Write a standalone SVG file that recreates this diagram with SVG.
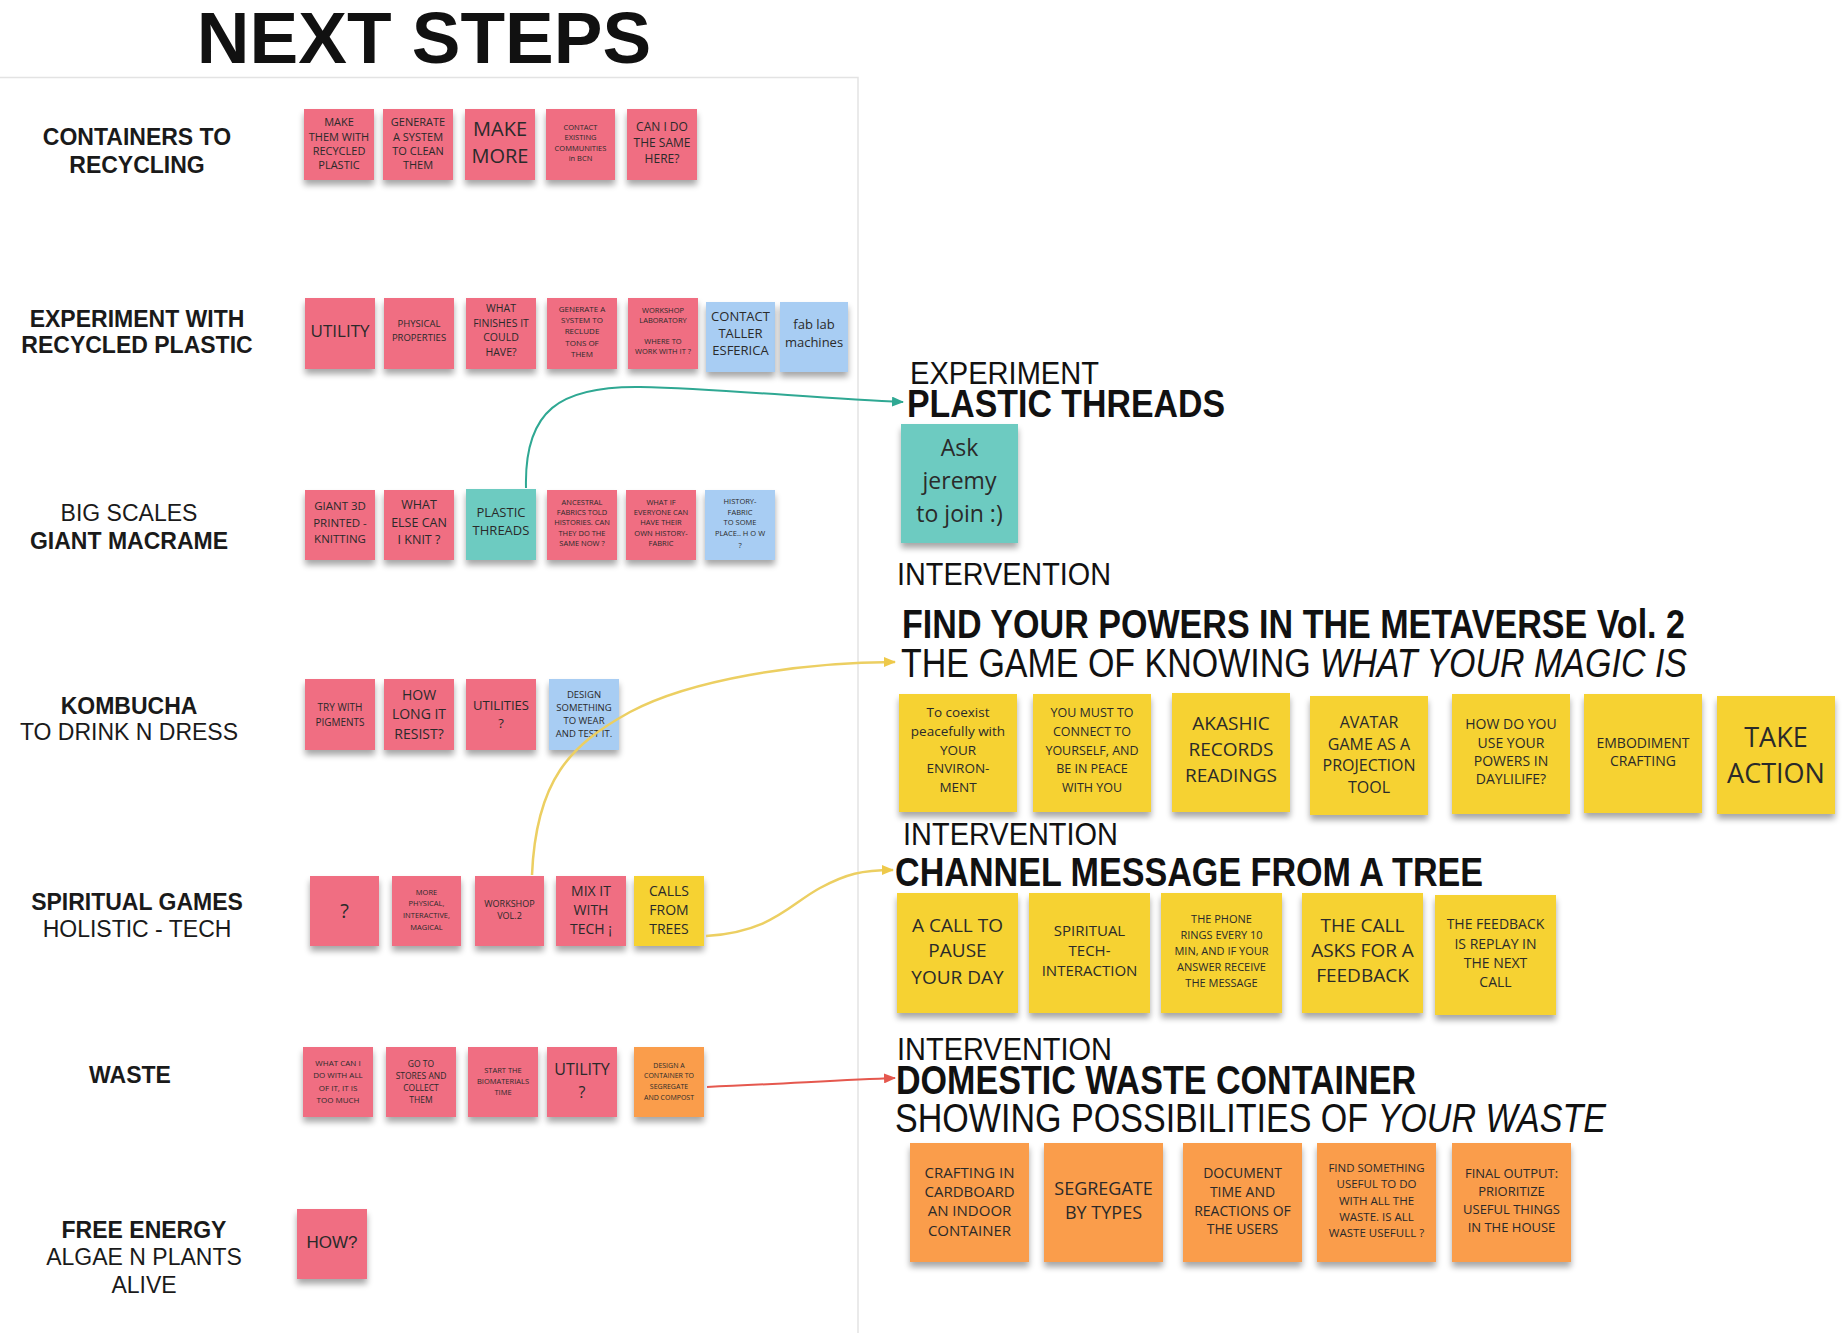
<svg xmlns="http://www.w3.org/2000/svg" width="1842" height="1333" viewBox="0 0 1842 1333">
<style>
.bg{fill:#ffffff}
.frame{stroke:#e3e3e3;stroke-width:1.5;fill:none}
.title{font-family:"Liberation Sans",Arial,sans-serif;font-weight:bold;fill:#111;text-anchor:middle}
.lab{font-family:"Liberation Sans",Arial,sans-serif;font-size:23px;fill:#1a1a1a;text-anchor:middle}
.b{font-weight:bold}
.hd{font-family:"Liberation Sans",Arial,sans-serif;fill:#111}
.st text,.st tspan{font-family:"Open Sans","Liberation Sans",sans-serif;fill:#2a2a2a;text-anchor:middle;dominant-baseline:central}
.pink{fill:#f06e82}
.blue{fill:#a8cdf3}
.teal{fill:#6dcbc1}
.yel{fill:#f6d232}
.org{fill:#fa9d4b}
.c-teal{stroke:#2fa893;stroke-width:2;fill:none}
.c-yel{stroke:#eccf62;stroke-width:2.5;fill:none}
.c-red{stroke:#e5584e;stroke-width:2;fill:none}
</style>
<defs>
<filter id="sh" x="-15%" y="-15%" width="130%" height="140%">
<feGaussianBlur in="SourceAlpha" stdDeviation="3"/>
<feOffset dy="5" result="o"/>
<feComponentTransfer><feFuncA type="linear" slope="0.35"/></feComponentTransfer>
<feMerge><feMergeNode/><feMergeNode in="SourceGraphic"/></feMerge>
</filter>
<marker id="aT" markerWidth="12" markerHeight="10" refX="11" refY="5" orient="auto" markerUnits="userSpaceOnUse"><path d="M0,0 L12,5 L0,10 Z" fill="#2fa893"/></marker>
<marker id="aY" markerWidth="12" markerHeight="10" refX="11" refY="5" orient="auto" markerUnits="userSpaceOnUse"><path d="M0,0 L12,5 L0,10 Z" fill="#eec94a"/></marker>
<marker id="aR" markerWidth="12" markerHeight="10" refX="11" refY="5" orient="auto" markerUnits="userSpaceOnUse"><path d="M0,0 L12,5 L0,10 Z" fill="#e5584e"/></marker>
</defs>
<rect class="bg" x="0" y="0" width="1842" height="1333"/>
<path class="frame" d="M0,77.5 H858 V1333"/>

<text class="title" x="424" y="63" font-size="73">NEXT STEPS</text>

<g id="labels">
<text class="lab b" x="137" y="145">CONTAINERS TO</text>
<text class="lab b" x="137" y="173">RECYCLING</text>
<text class="lab b" x="137" y="327">EXPERIMENT WITH</text>
<text class="lab b" x="137" y="353">RECYCLED PLASTIC</text>
<text class="lab" x="129" y="521">BIG SCALES</text>
<text class="lab b" x="129" y="549">GIANT MACRAME</text>
<text class="lab b" x="129" y="714">KOMBUCHA</text>
<text class="lab" x="129" y="740">TO DRINK N DRESS</text>
<text class="lab b" x="137" y="910">SPIRITUAL GAMES</text>
<text class="lab" x="137" y="937">HOLISTIC - TECH</text>
<text class="lab b" x="130" y="1083">WASTE</text>
<text class="lab b" x="144" y="1238">FREE ENERGY</text>
<text class="lab" x="144" y="1265">ALGAE N PLANTS</text>
<text class="lab" x="144" y="1293">ALIVE</text>
</g>

<g id="headings">
<text class="hd" x="910" y="384" font-size="31" textLength="189" lengthAdjust="spacingAndGlyphs">EXPERIMENT</text>
<text class="hd" x="907" y="417" font-size="39" font-weight="bold" textLength="318" lengthAdjust="spacingAndGlyphs">PLASTIC THREADS</text>
<text class="hd" x="897" y="585" font-size="32" textLength="214" lengthAdjust="spacingAndGlyphs">INTERVENTION</text>
<text class="hd" x="902" y="638" font-size="40" font-weight="bold" textLength="783" lengthAdjust="spacingAndGlyphs">FIND YOUR POWERS IN THE METAVERSE Vol. 2</text>
<text class="hd" x="901" y="677" font-size="40" textLength="786" lengthAdjust="spacingAndGlyphs">THE GAME OF KNOWING <tspan font-style="italic">WHAT YOUR MAGIC IS</tspan></text>
<text class="hd" x="903" y="845" font-size="32" textLength="215" lengthAdjust="spacingAndGlyphs">INTERVENTION</text>
<text class="hd" x="895" y="886" font-size="40" font-weight="bold" textLength="588" lengthAdjust="spacingAndGlyphs">CHANNEL MESSAGE FROM A TREE</text>
<text class="hd" x="897" y="1060" font-size="32" textLength="215" lengthAdjust="spacingAndGlyphs">INTERVENTION</text>
<text class="hd" x="896" y="1094" font-size="40" font-weight="bold" textLength="520" lengthAdjust="spacingAndGlyphs">DOMESTIC WASTE CONTAINER</text>
<text class="hd" x="895" y="1132" font-size="40" textLength="711" lengthAdjust="spacingAndGlyphs">SHOWING POSSIBILITIES OF <tspan font-style="italic">YOUR WASTE</tspan></text>
</g>

<!-- Row 1 -->
<g id="r1-1" class="st"><rect class="pink" x="304" y="109" width="70" height="71" filter="url(#sh)"/><text font-size="11"><tspan x="339" y="121">MAKE</tspan><tspan x="339" y="136">THEM WITH</tspan><tspan x="339" y="150">RECYCLED</tspan><tspan x="339" y="164">PLASTIC</tspan></text></g>
<g id="r1-2" class="st"><rect class="pink" x="383" y="109" width="70" height="71" filter="url(#sh)"/><text font-size="11"><tspan x="418" y="121">GENERATE</tspan><tspan x="418" y="136">A SYSTEM</tspan><tspan x="418" y="150">TO CLEAN</tspan><tspan x="418" y="164">THEM</tspan></text></g>
<g id="r1-3" class="st"><rect class="pink" x="465" y="109" width="70" height="71" filter="url(#sh)"/><text font-size="20"><tspan x="500" y="128">MAKE</tspan><tspan x="500" y="155">MORE</tspan></text></g>
<g id="r1-4" class="st"><rect class="pink" x="546" y="109" width="69" height="71" filter="url(#sh)"/><text font-size="7.5"><tspan x="580.5" y="127">CONTACT</tspan><tspan x="580.5" y="137">EXISTING</tspan><tspan x="580.5" y="148">COMMUNITIES</tspan><tspan x="580.5" y="158">in BCN</tspan></text></g>
<g id="r1-5" class="st"><rect class="pink" x="627" y="109" width="70" height="71" filter="url(#sh)"/><text font-size="12"><tspan x="662" y="126">CAN I DO</tspan><tspan x="662" y="142">THE SAME</tspan><tspan x="662" y="158">HERE?</tspan></text></g>

<!-- Row 2 -->
<g id="r2-1" class="st"><rect class="pink" x="305" y="298" width="70" height="71" filter="url(#sh)"/><text font-size="17"><tspan x="340" y="330">UTILITY</tspan></text></g>
<g id="r2-2" class="st"><rect class="pink" x="384" y="298" width="70" height="71" filter="url(#sh)"/><text font-size="9.5"><tspan x="419" y="323">PHYSICAL</tspan><tspan x="419" y="337">PROPERTIES</tspan></text></g>
<g id="r2-3" class="st"><rect class="pink" x="466" y="298" width="70" height="71" filter="url(#sh)"/><text font-size="10.5"><tspan x="501" y="308">WHAT</tspan><tspan x="501" y="323">FINISHES IT</tspan><tspan x="501" y="337">COULD</tspan><tspan x="501" y="352">HAVE?</tspan></text></g>
<g id="r2-4" class="st"><rect class="pink" x="547" y="298" width="70" height="71" filter="url(#sh)"/><text font-size="8"><tspan x="582" y="308">GENERATE A</tspan><tspan x="582" y="319">SYSTEM TO</tspan><tspan x="582" y="330">RECLUDE</tspan><tspan x="582" y="342">TONS OF</tspan><tspan x="582" y="353">THEM</tspan></text></g>
<g id="r2-5" class="st"><rect class="pink" x="628" y="298" width="70" height="71" filter="url(#sh)"/><text font-size="7.5"><tspan x="663" y="310">WORKSHOP</tspan><tspan x="663" y="320">LABORATORY</tspan><tspan x="663" y="341">WHERE TO</tspan><tspan x="663" y="351">WORK WITH IT ?</tspan></text></g>
<g id="r2-6" class="st"><rect class="blue" x="706" y="302" width="69" height="70" filter="url(#sh)"/><text font-size="13"><tspan x="740.5" y="316">CONTACT</tspan><tspan x="740.5" y="333">TALLER</tspan><tspan x="740.5" y="350">ESFERICA</tspan></text></g>
<g id="r2-7" class="st"><rect class="blue" x="780" y="302" width="68" height="70" filter="url(#sh)"/><text font-size="13"><tspan x="814" y="324">fab lab</tspan><tspan x="814" y="342">machines</tspan></text></g>

<!-- Row 3 -->
<g id="r3-1" class="st"><rect class="pink" x="305" y="490" width="70" height="70" filter="url(#sh)"/><text font-size="11.5"><tspan x="340" y="505">GIANT 3D</tspan><tspan x="340" y="522">PRINTED -</tspan><tspan x="340" y="538">KNITTING</tspan></text></g>
<g id="r3-2" class="st"><rect class="pink" x="384" y="490" width="70" height="70" filter="url(#sh)"/><text font-size="12.5"><tspan x="419" y="504">WHAT</tspan><tspan x="419" y="522">ELSE CAN</tspan><tspan x="419" y="539">I KNIT ?</tspan></text></g>
<g id="r3-3" class="st"><rect class="teal" x="466" y="489" width="70" height="71" filter="url(#sh)"/><text font-size="13"><tspan x="501" y="512">PLASTIC</tspan><tspan x="501" y="530">THREADS</tspan></text></g>
<g id="r3-4" class="st"><rect class="pink" x="547" y="490" width="70" height="70" filter="url(#sh)"/><text font-size="7.5"><tspan x="582" y="502">ANCESTRAL</tspan><tspan x="582" y="512">FABRICS TOLD</tspan><tspan x="582" y="522">HISTORIES. CAN</tspan><tspan x="582" y="533">THEY DO THE</tspan><tspan x="582" y="543">SAME NOW ?</tspan></text></g>
<g id="r3-5" class="st"><rect class="pink" x="626" y="490" width="70" height="70" filter="url(#sh)"/><text font-size="7.5"><tspan x="661" y="502">WHAT IF</tspan><tspan x="661" y="512">EVERYONE CAN</tspan><tspan x="661" y="522">HAVE THEIR</tspan><tspan x="661" y="533">OWN   HISTORY-</tspan><tspan x="661" y="543">FABRIC</tspan></text></g>
<g id="r3-6" class="st"><rect class="blue" x="705" y="490" width="70" height="70" filter="url(#sh)"/><text font-size="7.5"><tspan x="740" y="501">HISTORY-</tspan><tspan x="740" y="512">FABRIC</tspan><tspan x="740" y="522">TO SOME</tspan><tspan x="740" y="533">PLACE.. H O W</tspan><tspan x="740" y="545">?</tspan></text></g>

<!-- Row 4 -->
<g id="r4-1" class="st"><rect class="pink" x="305" y="679" width="70" height="71" filter="url(#sh)"/><text font-size="10"><tspan x="340" y="707">TRY WITH</tspan><tspan x="340" y="722">PIGMENTS</tspan></text></g>
<g id="r4-2" class="st"><rect class="pink" x="384" y="679" width="70" height="71" filter="url(#sh)"/><text font-size="14"><tspan x="419" y="694">HOW</tspan><tspan x="419" y="713">LONG IT</tspan><tspan x="419" y="733">RESIST?</tspan></text></g>
<g id="r4-3" class="st"><rect class="pink" x="466" y="679" width="70" height="71" filter="url(#sh)"/><text font-size="13"><tspan x="501" y="705">UTILITIES</tspan><tspan x="501" y="723">?</tspan></text></g>
<g id="r4-4" class="st"><rect class="blue" x="549" y="679" width="70" height="71" filter="url(#sh)"/><text font-size="9.5"><tspan x="584" y="694">DESIGN</tspan><tspan x="584" y="707">SOMETHING</tspan><tspan x="584" y="720">TO WEAR</tspan><tspan x="584" y="733">AND TEST IT.</tspan></text></g>

<!-- Row 5 -->
<g id="r5-1" class="st"><rect class="pink" x="310" y="876" width="69" height="70" filter="url(#sh)"/><text font-size="20"><tspan x="344.5" y="910">?</tspan></text></g>
<g id="r5-2" class="st"><rect class="pink" x="392" y="876" width="69" height="70" filter="url(#sh)"/><text font-size="7.5"><tspan x="426.5" y="892">MORE</tspan><tspan x="426.5" y="903">PHYSICAL,</tspan><tspan x="426.5" y="915">INTERACTIVE,</tspan><tspan x="426.5" y="927">MAGICAL</tspan></text></g>
<g id="r5-3" class="st"><rect class="pink" x="475" y="876" width="69" height="70" filter="url(#sh)"/><text font-size="9"><tspan x="509.5" y="903">WORKSHOP</tspan><tspan x="509.5" y="915">VOL.2</tspan></text></g>
<g id="r5-4" class="st"><rect class="pink" x="556" y="876" width="70" height="70" filter="url(#sh)"/><text font-size="14"><tspan x="591" y="890">MIX IT</tspan><tspan x="591" y="909">WITH</tspan><tspan x="591" y="928">TECH ¡</tspan></text></g>
<g id="r5-5" class="st"><rect class="yel" x="634" y="876" width="70" height="70" filter="url(#sh)"/><text font-size="14"><tspan x="669" y="890">CALLS</tspan><tspan x="669" y="909">FROM</tspan><tspan x="669" y="928">TREES</tspan></text></g>

<!-- Row 6 -->
<g id="r6-1" class="st"><rect class="pink" x="303" y="1047" width="70" height="70" filter="url(#sh)"/><text font-size="8"><tspan x="338" y="1062">WHAT CAN I</tspan><tspan x="338" y="1074">DO WITH ALL</tspan><tspan x="338" y="1087">OF IT, IT IS</tspan><tspan x="338" y="1099">TOO MUCH</tspan></text></g>
<g id="r6-2" class="st"><rect class="pink" x="386" y="1047" width="70" height="70" filter="url(#sh)"/><text font-size="8.5"><tspan x="421" y="1063">GO TO</tspan><tspan x="421" y="1075">STORES AND</tspan><tspan x="421" y="1087">COLLECT</tspan><tspan x="421" y="1099">THEM</tspan></text></g>
<g id="r6-3" class="st"><rect class="pink" x="468" y="1047" width="70" height="70" filter="url(#sh)"/><text font-size="7.5"><tspan x="503" y="1070">START THE</tspan><tspan x="503" y="1081">BIOMATERIALS</tspan><tspan x="503" y="1092">TIME</tspan></text></g>
<g id="r6-4" class="st"><rect class="pink" x="547" y="1047" width="70" height="70" filter="url(#sh)"/><text font-size="16"><tspan x="582" y="1069">UTILITY</tspan><tspan x="582" y="1092">?</tspan></text></g>
<g id="r6-5" class="st"><rect class="org" x="634" y="1047" width="70" height="70" filter="url(#sh)"/><text font-size="7"><tspan x="669" y="1065">DESIGN A</tspan><tspan x="669" y="1075">CONTAINER TO</tspan><tspan x="669" y="1086">SEGREGATE</tspan><tspan x="669" y="1097">AND COMPOST</tspan></text></g>

<!-- Row 7 -->
<g id="r7-1" class="st"><rect class="pink" x="297" y="1209" width="70" height="70" filter="url(#sh)"/><text font-size="17" style="font-family:'Liberation Sans',Arial,sans-serif"><tspan x="332" y="1242" style="font-family:'Liberation Sans',Arial,sans-serif">HOW?</tspan></text></g>

<!-- Plastic threads -->
<g id="pt-1" class="st"><rect class="teal" x="901" y="424" width="117" height="119" filter="url(#sh)"/><text font-size="23"><tspan x="959.5" y="447">Ask</tspan><tspan x="959.5" y="480">jeremy</tspan><tspan x="959.5" y="513">to join :)</tspan></text></g>

<!-- Find your powers row -->
<g id="fp-1" class="st"><rect class="yel" x="899" y="694" width="118" height="118" filter="url(#sh)"/><text font-size="13.5"><tspan x="958" y="712">To coexist</tspan><tspan x="958" y="731">peacefully with</tspan><tspan x="958" y="750">YOUR</tspan><tspan x="958" y="768">ENVIRON-</tspan><tspan x="958" y="787">MENT</tspan></text></g>
<g id="fp-2" class="st"><rect class="yel" x="1033" y="694" width="118" height="118" filter="url(#sh)"/><text font-size="12.5"><tspan x="1092" y="712">YOU MUST TO</tspan><tspan x="1092" y="731">CONNECT TO</tspan><tspan x="1092" y="750">YOURSELF, AND</tspan><tspan x="1092" y="768">BE IN PEACE</tspan><tspan x="1092" y="787">WITH YOU</tspan></text></g>
<g id="fp-3" class="st"><rect class="yel" x="1172" y="693" width="118" height="119" filter="url(#sh)"/><text font-size="19"><tspan x="1231" y="723">AKASHIC</tspan><tspan x="1231" y="749">RECORDS</tspan><tspan x="1231" y="775">READINGS</tspan></text></g>
<g id="fp-4" class="st"><rect class="yel" x="1310" y="696" width="118" height="119" filter="url(#sh)"/><text font-size="16"><tspan x="1369" y="722">AVATAR</tspan><tspan x="1369" y="744">GAME AS A</tspan><tspan x="1369" y="765">PROJECTION</tspan><tspan x="1369" y="787">TOOL</tspan></text></g>
<g id="fp-5" class="st"><rect class="yel" x="1452" y="694" width="118" height="120" filter="url(#sh)"/><text font-size="14"><tspan x="1511" y="723">HOW DO YOU</tspan><tspan x="1511" y="742">USE YOUR</tspan><tspan x="1511" y="760">POWERS IN</tspan><tspan x="1511" y="778">DAYLILIFE?</tspan></text></g>
<g id="fp-6" class="st"><rect class="yel" x="1584" y="694" width="118" height="119" filter="url(#sh)"/><text font-size="14"><tspan x="1643" y="742">EMBODIMENT</tspan><tspan x="1643" y="760">CRAFTING</tspan></text></g>
<g id="fp-7" class="st"><rect class="yel" x="1717" y="696" width="118" height="118" filter="url(#sh)"/><text font-size="27"><tspan x="1776" y="736">TAKE</tspan><tspan x="1776" y="772">ACTION</tspan></text></g>

<!-- Channel message row -->
<g id="cm-1" class="st"><rect class="yel" x="897" y="893" width="121" height="120" filter="url(#sh)"/><text font-size="19"><tspan x="957.5" y="925">A CALL TO</tspan><tspan x="957.5" y="950">PAUSE</tspan><tspan x="957.5" y="977">YOUR DAY</tspan></text></g>
<g id="cm-2" class="st"><rect class="yel" x="1029" y="893" width="121" height="120" filter="url(#sh)"/><text font-size="15"><tspan x="1089.5" y="930">SPIRITUAL</tspan><tspan x="1089.5" y="950">TECH-</tspan><tspan x="1089.5" y="970">INTERACTION</tspan></text></g>
<g id="cm-3" class="st"><rect class="yel" x="1161" y="893" width="121" height="120" filter="url(#sh)"/><text font-size="11"><tspan x="1221.5" y="918">THE PHONE</tspan><tspan x="1221.5" y="934">RINGS EVERY 10</tspan><tspan x="1221.5" y="950">MIN, AND IF YOUR</tspan><tspan x="1221.5" y="966">ANSWER RECEIVE</tspan><tspan x="1221.5" y="982">THE MESSAGE</tspan></text></g>
<g id="cm-4" class="st"><rect class="yel" x="1302" y="893" width="121" height="120" filter="url(#sh)"/><text font-size="19"><tspan x="1362.5" y="925">THE CALL</tspan><tspan x="1362.5" y="950">ASKS FOR A</tspan><tspan x="1362.5" y="975">FEEDBACK</tspan></text></g>
<g id="cm-5" class="st"><rect class="yel" x="1435" y="895" width="121" height="120" filter="url(#sh)"/><text font-size="14"><tspan x="1495.5" y="923">THE FEEDBACK</tspan><tspan x="1495.5" y="943">IS REPLAY IN</tspan><tspan x="1495.5" y="962">THE NEXT</tspan><tspan x="1495.5" y="981">CALL</tspan></text></g>

<!-- Domestic waste row -->
<g id="dw-1" class="st"><rect class="org" x="910" y="1143" width="119" height="119" filter="url(#sh)"/><text font-size="15"><tspan x="969.5" y="1172">CRAFTING IN</tspan><tspan x="969.5" y="1191">CARDBOARD</tspan><tspan x="969.5" y="1210">AN INDOOR</tspan><tspan x="969.5" y="1230">CONTAINER</tspan></text></g>
<g id="dw-2" class="st"><rect class="org" x="1044" y="1143" width="119" height="119" filter="url(#sh)"/><text font-size="18"><tspan x="1103.5" y="1188">SEGREGATE</tspan><tspan x="1103.5" y="1212">BY TYPES</tspan></text></g>
<g id="dw-3" class="st"><rect class="org" x="1183" y="1143" width="119" height="119" filter="url(#sh)"/><text font-size="14"><tspan x="1242.5" y="1172">DOCUMENT</tspan><tspan x="1242.5" y="1191">TIME AND</tspan><tspan x="1242.5" y="1210">REACTIONS OF</tspan><tspan x="1242.5" y="1228">THE USERS</tspan></text></g>
<g id="dw-4" class="st"><rect class="org" x="1317" y="1143" width="119" height="119" filter="url(#sh)"/><text font-size="11.5"><tspan x="1376.5" y="1167">FIND SOMETHING</tspan><tspan x="1376.5" y="1183">USEFUL TO DO</tspan><tspan x="1376.5" y="1200">WITH ALL THE</tspan><tspan x="1376.5" y="1216">WASTE. IS ALL</tspan><tspan x="1376.5" y="1232">WASTE USEFULL ?</tspan></text></g>
<g id="dw-5" class="st"><rect class="org" x="1452" y="1143" width="119" height="119" filter="url(#sh)"/><text font-size="13"><tspan x="1511.5" y="1173">FINAL OUTPUT:</tspan><tspan x="1511.5" y="1191">PRIORITIZE</tspan><tspan x="1511.5" y="1209">USEFUL THINGS</tspan><tspan x="1511.5" y="1227">IN THE HOUSE</tspan></text></g>

<g id="connectors">
<path class="c-teal" d="M526,488 C524,410 560,386 640,387 C730,389 820,399 903,402" marker-end="url(#aT)"/>
<path class="c-yel" d="M532,875 C536,780 570,745 630,712 C690,680 800,662 895,662" marker-end="url(#aY)"/>
<path class="c-yel" d="M706,936 C772,932 790,904 820,888 C846,874 862,870 893,870" marker-end="url(#aY)"/>
<path class="c-red" d="M707,1087 C780,1084 840,1080 895,1078" marker-end="url(#aR)"/>
</g>
</svg>
